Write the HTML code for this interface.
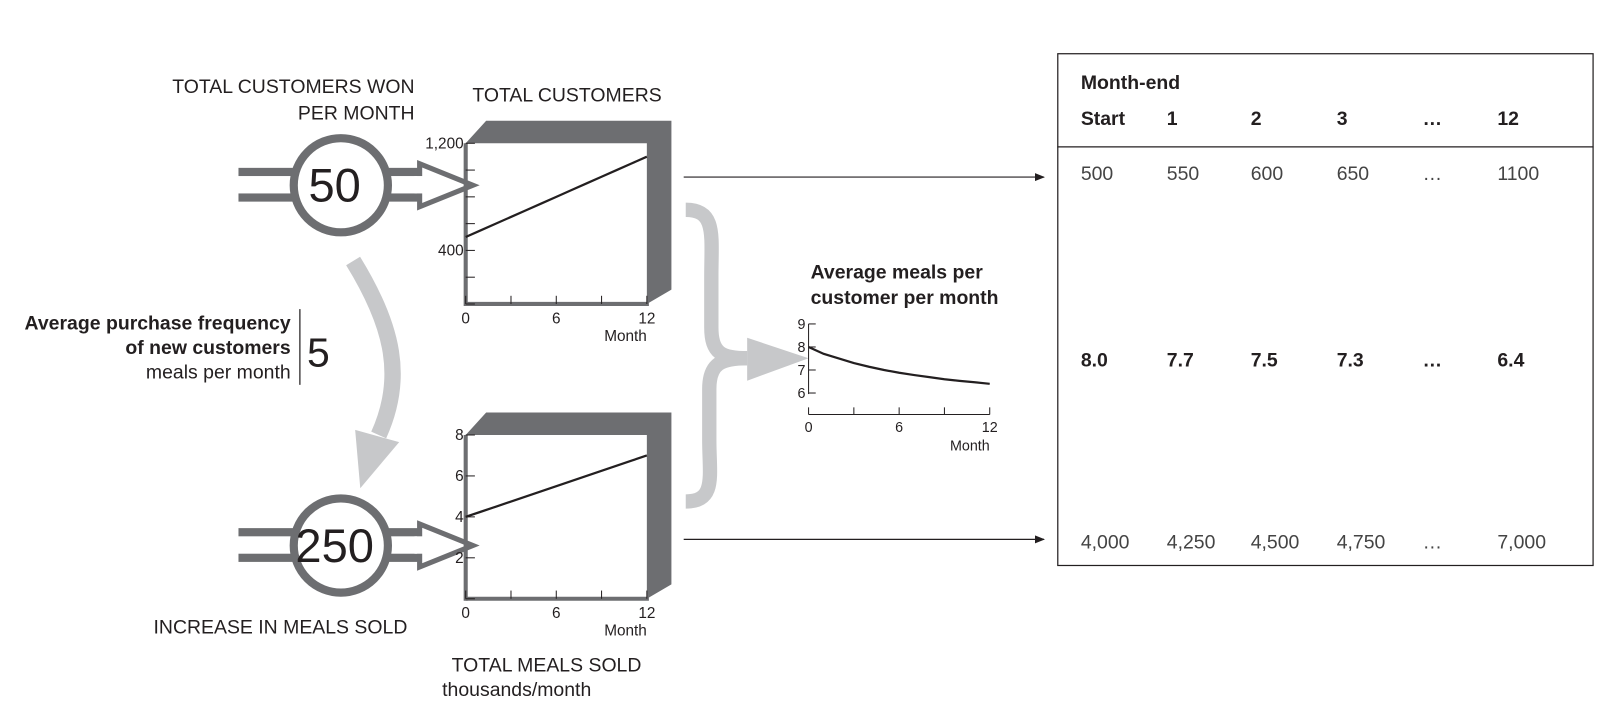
<!DOCTYPE html>
<html><head><meta charset="utf-8"><style>
html,body{margin:0;padding:0;background:#fff;width:1604px;height:722px;overflow:hidden}
svg{display:block;font-family:"Liberation Sans",sans-serif;fill:#231f20}
</style></head><body>
<svg id="root" width="1604" height="722" viewBox="0 0 1604 722">
<defs>
<marker id="ah" markerWidth="10" markerHeight="8" refX="9" refY="4" orient="auto" markerUnits="userSpaceOnUse"><path d="M0,0 L10,4 L0,8 Z" fill="#231f20"/></marker>
</defs>
<g transform="scale(1.0235)">
<g font-size="19">
<text x="405" y="91" text-anchor="end">TOTAL CUSTOMERS WON</text>
<text x="405" y="117" text-anchor="end">PER MONTH</text>
<text x="554" y="99" text-anchor="middle">TOTAL CUSTOMERS</text>
<text x="274" y="619" text-anchor="middle">INCREASE IN MEALS SOLD</text>
<text x="534" y="656" text-anchor="middle">TOTAL MEALS SOLD</text>
<text x="432" y="680" font-size="19">thousands/month</text>
</g>
<g font-size="19">
<text x="284" y="322" text-anchor="end" font-weight="bold">Average purchase frequency</text>
<text x="284" y="346" text-anchor="end" font-weight="bold">of new customers</text>
<text x="284" y="370" text-anchor="end">meals per month</text>
<line x1="293" y1="302" x2="293" y2="376" stroke="#231f20" stroke-width="1.2"/>
<text x="300" y="358" font-size="40">5</text>
</g>
<g>
<path d="M345,255 C385,320 395,370 370,425" fill="none" stroke="#c7c8ca" stroke-width="16"/>
<polygon points="347,420 390,432 352,477" fill="#c7c8ca"/>
</g>
<g fill="none" stroke="#c7c8ca" stroke-width="14">
<path d="M670,205 C700,205 695,230 695,270 L695,320 C695,345 705,350 730,350"/>
<path d="M670,490 C700,490 693,465 693,430 L693,380 C693,355 705,350 730,350"/>
<polygon points="730,330 790,350 730,372" fill="#c7c8ca" stroke="none"/>
</g>
<g id="pipes"></g>
<g id="charts"></g>
<line x1="668" y1="173" x2="1020" y2="173" stroke="#231f20" stroke-width="1.2" marker-end="url(#ah)"/>
<line x1="668" y1="527" x2="1020" y2="527" stroke="#231f20" stroke-width="1.2" marker-end="url(#ah)"/>
<g id="table">
<rect x="1033.5" y="52.5" width="523" height="500" fill="none" stroke="#231f20" stroke-width="1.2"/>
<line x1="1033" y1="143.5" x2="1557" y2="143.5" stroke="#231f20" stroke-width="1.2"/>
<text x="1056" y="87" font-size="19" font-weight="bold">Month-end</text>
</g>
</g>
</svg>
<script>
const NS="http://www.w3.org/2000/svg";
function mk(tag,attrs,parent,txt){const e=document.createElementNS(NS,tag);for(const k in attrs)e.setAttribute(k,attrs[k]);if(txt!==undefined)e.textContent=txt;parent.appendChild(e);return e;}

const months=[0,1,2,3,4,5,6,7,8,9,10,11,12];
const customers=[500,550,600,650,700,750,800,850,900,950,1000,1050,1100];
const mealsK=[4.0,4.25,4.5,4.75,5.0,5.25,5.5,5.75,6.0,6.25,6.5,6.75,7.0];
const avgMeals=[8.0,7.7,7.5,7.3,7.14,7.0,6.88,6.78,6.69,6.6,6.53,6.47,6.4];
const custTicks=[0,200,400,600,800,1000,1200];
const custTickLabels=["","","400","","","","1,200"];
const mealTicks=[0,2,4,6,8];
const mealTickLabels=["","2","4","6","8"];
const avgTicks=[6,7,8,9];
const avgTickLabels=["6","7","8","9"];
const xTicks=[0,3,6,9,12];
const xTickLabels=["0","","6","","12"];
const tableCols=["Start","1","2","3","…","12"];
const rowCustomers=["500","550","600","650","…","1100"];
const rowAvg=["8.0","7.7","7.5","7.3","…","6.4"];
const rowMeals=["4,000","4,250","4,500","4,750","…","7,000"];
const flowValues=["50","250"];

const charts=document.getElementById('charts');
const DARK="#6d6e71";

function boxChart(name,L,T,R,B,yMin,yMax,ticks,labels,vals){
  const g=mk('g',{},charts);
  
  
  const f=mk('polygon',{points:`${L},${T} ${L+20},${T-22} ${R+24},${T-22} ${R+24},${B-14} ${R},${B} ${R},${T}`,fill:DARK},g);
  
  
  const x=m=>L+(m/12)*(R-L);
  const y=v=>B-(v-yMin)/(yMax-yMin)*(B-T);
  mk('line',{x1:L,y1:T,x2:L,y2:B+2,stroke:DARK,"stroke-width":4},g);
  mk('line',{x1:L,y1:B,x2:R+2,y2:B,stroke:DARK,"stroke-width":4},g);
  ticks.forEach((t,i)=>{
    mk('line',{x1:L,y1:y(t),x2:L+9,y2:y(t),stroke:"#231f20","stroke-width":1},g);
    if(labels[i]){const tx=mk('text',{x:L-2,y:y(t)+5,"text-anchor":"end","font-size":15},g,labels[i]);
      
      }
  });
  xTicks.forEach((m,i)=>{
    mk('line',{x1:x(m),y1:B,x2:x(m),y2:B-8,stroke:"#231f20","stroke-width":1},g);
    if(xTickLabels[i]){const tx=mk('text',{x:x(m),y:B+19,"text-anchor":"middle","font-size":15},g,xTickLabels[i]);
      
      }
  });
  const xl=mk('text',{x:R,y:B+36,"text-anchor":"end","font-size":15},g,"Month");
  
  
  const p=mk('polyline',{points:months.map((m,i)=>x(m)+","+y(vals[i])).join(" "),fill:"none",stroke:"#231f20","stroke-width":2.2},g);
  
  
}
boxChart('total-customers-chart',455,140,632,297,0,1200,custTicks,custTickLabels,customers);
boxChart('total-meals-chart',455,425,632,585,0,8,mealTicks,mealTickLabels,mealsK);

(function(){
  const L=790,R=967,B=405,g=mk('g',{},charts);
  
  
  const x=m=>L+(m/12)*(R-L);
  const y=v=>384-(v-6)*22.5;
  const t1=mk('text',{x:792,y:272,"font-size":19,"font-weight":"bold"},g,"Average meals per");
  
  
  const t2=mk('text',{x:792,y:297,"font-size":19,"font-weight":"bold"},g,"customer per month");
  
  
  mk('line',{x1:L,y1:y(9),x2:L,y2:y(6)+1,stroke:"#231f20","stroke-width":1},g);
  mk('line',{x1:L,y1:B,x2:R,y2:B,stroke:"#231f20","stroke-width":1},g);
  avgTicks.forEach((t,i)=>{
    mk('line',{x1:L,y1:y(t),x2:L+7,y2:y(t),stroke:"#231f20","stroke-width":1},g);
    const tx=mk('text',{x:L-3,y:y(t)+5,"text-anchor":"end","font-size":14},g,avgTickLabels[i]);
    
    
  });
  xTicks.forEach((m,i)=>{
    mk('line',{x1:x(m),y1:B,x2:x(m),y2:B-7,stroke:"#231f20","stroke-width":1},g);
    if(xTickLabels[i]){const tx=mk('text',{x:x(m),y:B+17,"text-anchor":"middle","font-size":14},g,xTickLabels[i]);
      
      }
  });
  const xl=mk('text',{x:R,y:B+35,"text-anchor":"end","font-size":14},g,"Month");
  
  
  const p=mk('polyline',{points:months.map((m,i)=>x(m)+","+y(avgMeals[i])).join(" "),fill:"none",stroke:"#231f20","stroke-width":2.2},g);
  
  
})();

const pipes=document.getElementById('pipes');
[[181,0],[533,1]].forEach(([cy,i])=>{
  const g=mk('g',{},pipes);
  
  
  mk('rect',{x:233,y:cy-17,width:180,height:8,fill:DARK},g);
  mk('rect',{x:233,y:cy+8,width:180,height:8,fill:DARK},g);
  mk('polygon',{points:`410,${cy-21} 462,${cy} 410,${cy+21}`,fill:"#fff",stroke:DARK,"stroke-width":5,"stroke-linejoin":"miter"},g);
  mk('rect',{x:405,y:cy-9,width:12,height:17,fill:"#fff"},g);
  mk('circle',{cx:333,cy:cy,r:46,fill:"#fff",stroke:DARK,"stroke-width":8},g);
  const t=mk('text',{x:327,y:cy+16,"text-anchor":"middle","font-size":46},g,flowValues[i]);
  
  
});

const table=document.getElementById('table');
const colX=[1056,1140,1222,1306,1390,1463];
function row(vals,y,bold,name){
  vals.forEach((v,i)=>{
    const t=mk('text',{x:colX[i],y:y,"font-size":19,"font-weight":bold?"bold":"normal",fill:bold?"#231f20":"#444"},table,v);
    
    
  });
}
row(tableCols,122,true,'table-column-header');
row(rowCustomers,176,false,'customers-cell');
row(rowAvg,358,true,'avg-meals-cell');
row(rowMeals,536,false,'meals-cell');
</script>
</body></html>
